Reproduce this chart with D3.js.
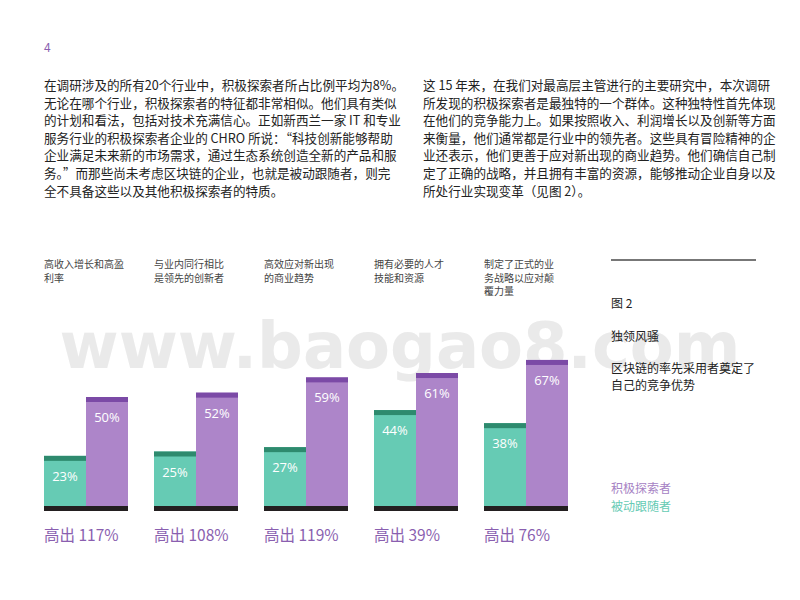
<!DOCTYPE html>
<html><head><meta charset="utf-8">
<script src="https://cdn.jsdelivr.net/npm/d3@7"></script>
<style>body{margin:0;background:#fff}</style></head>
<body><svg id="c" width="800" height="600"></svg>
<script>
const categories=[["高收入增长和高盈","利率"],["与业内同行相比","是领先的创新者"],["高效应对新出现","的商业趋势"],["拥有必要的人才","技能和资源"],["制定了正式的业","务战略以应对颠","覆力量"]];
const followers=[23,25,27,44,38];
const explorers=[50,52,59,61,67];
const higher=["高出 117%","高出 108%","高出 119%","高出 39%","高出 76%"];
const leftPara=["在调研涉及的所有20个行业中，积极探索者所占比例平均为8%。","无论在哪个行业，积极探索者的特征都非常相似。他们具有类似","的计划和看法，包括对技术充满信心。正如新西兰一家 IT 和专业","服务行业的积极探索者企业的 CHRO 所说：“科技创新能够帮助","企业满足未来新的市场需求，通过生态系统创造全新的产品和服","务。”而那些尚未考虑区块链的企业，也就是被动跟随者，则完","全不具备这些以及其他积极探索者的特质。"];
const rightPara=["这 15 年来，在我们对最高层主管进行的主要研究中，本次调研","所发现的积极探索者是最独特的一个群体。这种独特性首先体现","在他们的竞争能力上。如果按照收入、利润增长以及创新等方面","来衡量，他们通常都是行业中的领先者。这些具有冒险精神的企","业还表示，他们更善于应对新出现的商业趋势。他们确信自己制","定了正确的战略，并且拥有丰富的资源，能够推动企业自身以及","所处行业实现变革（见图 2）。"];
const svg=d3.select("#c");
const F="'Noto Sans CJK SC','Noto Sans',sans-serif";
svg.append("text").attr("x",44).attr("y",52).attr("font-family",F).attr("font-size",12).attr("fill","#8a5fb0").text("4");
function para(lines,x){lines.forEach((l,i)=>svg.append("text").attr("x",x).attr("y",90+i*17.6).attr("font-family",F).attr("font-size",12.6).attr("fill","#222").text(l));}
para(leftPara,44);para(rightPara,423);
// watermark
svg.append("text").attr("x",400).attr("y",368).attr("text-anchor","middle").attr("font-family","'DejaVu Sans',sans-serif").attr("font-weight","bold").attr("font-size",64).attr("fill","#e6e6e6").attr("opacity",0.8).text("www.baogao8.com");
const x=d3.scaleBand().domain(d3.range(5)).range([44,594]).paddingInner(84/550*5/4.3).paddingOuter(0).align(0);
const gx=i=>44+i*110, bw=42;
const y=d3.scaleLinear().domain([0,100]).range([506,288]);
const g=svg.selectAll("g.grp").data(d3.range(5)).join("g");
function bar(vals,off,fill,cap){
 g.append("rect").attr("x",i=>gx(i)+off).attr("width",bw).attr("y",i=>y(vals[i])).attr("height",i=>506-y(vals[i])).attr("fill",fill);
 g.append("rect").attr("x",i=>gx(i)+off).attr("width",bw).attr("y",i=>y(vals[i])).attr("height",5).attr("fill",cap);
 g.append("text").attr("x",i=>gx(i)+off+bw/2).attr("y",i=>y(vals[i])+25).attr("text-anchor","middle").attr("font-family","'Open Sans',sans-serif").attr("font-size",13).attr("fill","#fff").text(i=>vals[i]+"%");
}
bar(followers,0,"#66cbb4","#2e8a6e");
bar(explorers,bw,"#ad85c9","#7b4aa6");
g.append("rect").attr("x",i=>gx(i)).attr("y",506).attr("width",bw*2).attr("height",5).attr("fill","#231f20");
g.append("text").attr("x",i=>gx(i)).attr("y",541).attr("font-family",F).attr("font-size",15.5).attr("fill","#8a5fb0").text(i=>higher[i]);
g.each(function(i){categories[i].forEach((l,j)=>d3.select(this).append("text").attr("x",gx(i)).attr("y",268+j*13.5).attr("font-family",F).attr("font-size",10).attr("fill","#444").text(l));});
svg.append("line").attr("x1",611).attr("x2",756).attr("y1",260).attr("y2",260).attr("stroke","#777").attr("stroke-width",2);
const R=[["图 2",308,12],["独领风骚",341,12],["区块链的率先采用者奠定了",373,12],["自己的竞争优势",390,12]];
R.forEach(r=>svg.append("text").attr("x",611).attr("y",r[1]).attr("font-family",F).attr("font-size",r[2]).attr("fill","#222").text(r[0]));
svg.append("text").attr("x",611).attr("y",493).attr("font-family",F).attr("font-size",12).attr("fill","#a682c4").text("积极探索者");
svg.append("text").attr("x",611).attr("y",511).attr("font-family",F).attr("font-size",12).attr("fill","#66cbb4").text("被动跟随者");
</script></body></html>
